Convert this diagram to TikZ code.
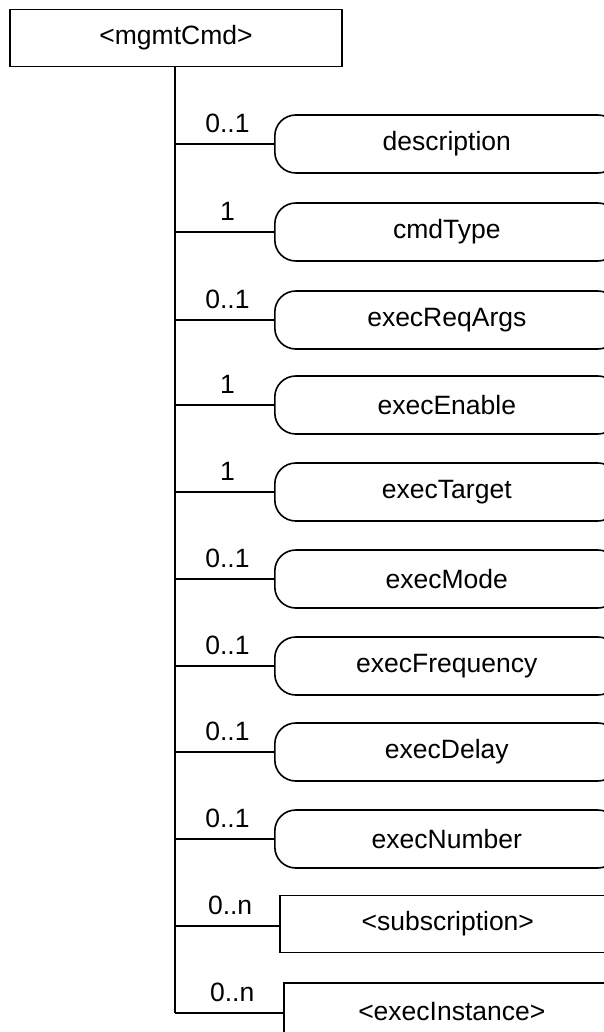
\documentclass[tikz,border=0pt]{standalone}
\usepackage{fontspec}
\setmainfont{Liberation Sans}
\usetikzlibrary{positioning}

\begin{document}
\begin{tikzpicture}[x=1pt,y=-1pt,line width=1.6pt,font=\fontsize{26.5}{30}\selectfont,
  elem/.style={draw,rounded corners=21pt,minimum width=344pt,minimum height=58pt,inner sep=0pt,anchor=west},
  res/.style={draw,minimum width=336pt,minimum height=57pt,inner sep=0pt,anchor=west},
  mult/.style={above=7pt,pos=0.53}]
  \path[use as bounding box,fill=white] (0,0) rectangle (603,1032);
  % ---------- parent resource
  \node[draw,minimum width=332pt,minimum height=57pt,inner sep=0pt] (root) at (176,38) {<mgmtCmd>};
  % ---------- attributes
  \foreach \a/\m/\y [count=\i] in {description/0..1/144,cmdType/1/232,execReqArgs/0..1/320,
      execEnable/1/405,execTarget/1/492,execMode/0..1/579,execFrequency/0..1/666,
      execDelay/0..1/752,execNumber/0..1/839} {
    \coordinate (j\i) at (175,\y);
    \node[elem] (a\i) at (274,\y) {\a};
    \draw (j\i) -- node[mult] {\m} (a\i.west);
  }
  % ---------- child resources
  \coordinate (j10) at (175,926);
  \node[res] (c1) at (279,924) {<subscription>};
  \draw (j10) -- node[mult] {0..n} (c1.west |- j10);
  \coordinate (j11) at (175,1013);
  \node[res] (c2) at (283,1011.5) {<execInstance>};
  \draw (j11) -- node[mult] {0..n} (c2.west |- j11);
  % ---------- trunk
  \draw (root.south -| j1) -- (j11);
\end{tikzpicture}
\end{document}
